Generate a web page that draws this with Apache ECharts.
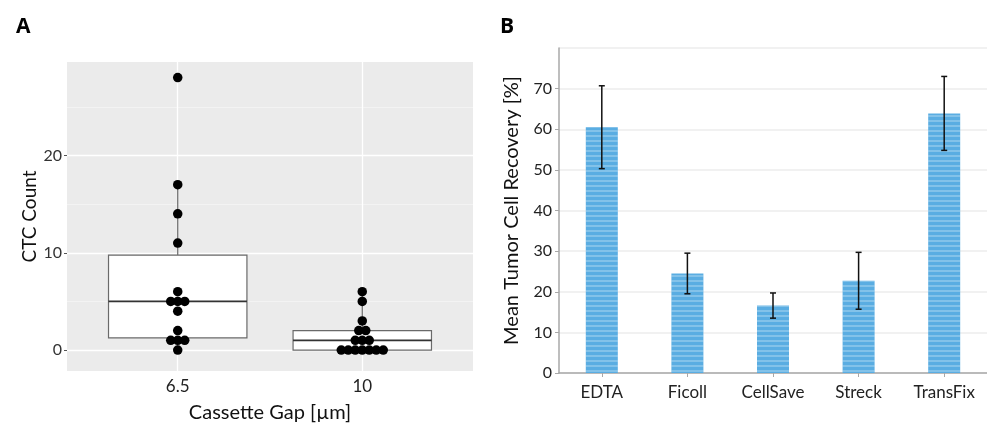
<!DOCTYPE html>
<html>
<head>
<meta charset="utf-8">
<script src="https://cdn.jsdelivr.net/npm/echarts@6/dist/echarts.min.js"></script>
<style>html,body{margin:0;padding:0;background:#fff}#c{width:987px;height:428px}</style>
</head>
<body>
<div id="c"></div>
<script>
// ---- Panel A data ----
const gapCategories = ['6.5', '10'];
const gapPositions = [1, 2];
const ctc65 = [0, 1, 1, 1, 2, 4, 5, 5, 5, 6, 11, 14, 17, 28];
const ctc10 = [0, 0, 0, 0, 0, 0, 0, 1, 1, 1, 2, 2, 3, 5, 6];
// [lower whisker, Q1, median, Q3, upper whisker]
const boxStats65 = [0, 1.25, 5, 9.75, 17];
const boxStats10 = [0, 0, 1, 2, 6];
const ctcTicks = [0, 10, 20];
const ctcMinorTicks = [5, 15, 25];

// ---- Panel B data ----
const media = ['EDTA', 'Ficoll', 'CellSave', 'Streck', 'TransFix'];
const recoveryMean = [60.5, 24.5, 16.6, 22.7, 63.9];
const recoveryErr = [10.2, 5.0, 3.1, 7.0, 9.1];

const FONT = 'Lato, "Open Sans", sans-serif';

// dotplot layout: pixel offset of stacked equal values
function dotData(values, xpos) {
  const counts = {}, seen = {};
  values.forEach(v => counts[v] = (counts[v] || 0) + 1);
  return values.map(v => {
    const i = seen[v] = (seen[v] === undefined ? 0 : seen[v] + 1);
    const n = counts[v];
    return { value: [xpos, v], symbolOffset: [(i - (n - 1) / 2) * 7, 0] };
  });
}

const chart = echarts.init(document.getElementById('c'));
const option = {
  animation: false,
  textStyle: { fontFamily: FONT },
  title: [
    { text: 'A', left: 11, top: 12, textStyle: { fontSize: 21, fontWeight: 'bold', color: '#000', fontFamily: 'Open Sans, sans-serif' } },
    { text: 'B', left: 495, top: 12, textStyle: { fontSize: 21, fontWeight: 'bold', color: '#000', fontFamily: 'Open Sans, sans-serif' } }
  ],
  grid: [
    { left: 67, top: 62, width: 406, height: 312, show: true, backgroundColor: '#ebebeb', borderWidth: 0 },
    { left: 559, top: 48, width: 435, height: 325 }
  ],
  xAxis: [
    {
      gridIndex: 0, type: 'value', min: 0.4, max: 2.6,
      name: 'Cassette Gap [µm]', nameLocation: 'middle', nameGap: 32,
      nameTextStyle: { fontSize: 20, color: '#111', fontFamily: FONT },
      axisLine: { show: false },
      axisTick: { show: true, length: 3, customValues: gapPositions, lineStyle: { color: '#555' } },
      axisLabel: { customValues: gapPositions, margin: 7, fontSize: 17, color: '#222', fontFamily: FONT,
        formatter: v => gapCategories[gapPositions.indexOf(v)] },
      splitLine: { show: false }
    },
    {
      gridIndex: 1, type: 'category', data: media,
      axisLine: { lineStyle: { color: '#a8a8a8', width: 1.5 } },
      axisTick: { show: true, alignWithLabel: true, length: 4, lineStyle: { color: '#a8a8a8' } },
      axisLabel: { margin: 11, fontSize: 17, color: '#222', fontFamily: FONT, interval: 0 },
      splitLine: { show: false }
    }
  ],
  yAxis: [
    {
      gridIndex: 0, type: 'value', min: -2.15, max: 29.6,
      name: 'CTC Count', nameLocation: 'middle', nameGap: 28,
      nameTextStyle: { fontSize: 19, color: '#111', fontFamily: FONT },
      axisLine: { show: false },
      axisTick: { show: true, length: 3, customValues: ctcTicks, lineStyle: { color: '#555' } },
      axisLabel: { customValues: ctcTicks, margin: 5, fontSize: 16, color: '#333', fontFamily: FONT },
      splitLine: { show: false }
    },
    {
      gridIndex: 1, type: 'value', min: 0, max: 80, interval: 10,
      name: 'Mean Tumor Cell Recovery [%]', nameLocation: 'middle', nameGap: 37,
      nameTextStyle: { fontSize: 20, color: '#111', fontFamily: FONT },
      axisLine: { show: true, lineStyle: { color: '#a8a8a8', width: 1.5 } },
      axisTick: { show: true, length: 4, lineStyle: { color: '#a8a8a8' } },
      axisLabel: { margin: 7, fontSize: 16, color: '#222', fontFamily: FONT, showMaxLabel: false },
      splitLine: { show: true, lineStyle: { color: '#ececec', width: 1.5 } }
    }
  ],
  series: [
    {
      type: 'custom', xAxisIndex: 0, yAxisIndex: 0, z: 2,
      data: [[gapPositions[0]].concat(boxStats65), [gapPositions[1]].concat(boxStats10)],
      renderItem: function (params, api) {
        const x = api.value(0);
        const lo = api.value(1), q1 = api.value(2), med = api.value(3), q3 = api.value(4), hi = api.value(5);
        const pLo = api.coord([x, lo]), pHi = api.coord([x, hi]);
        const tl = api.coord([x - 0.375, q3]), br = api.coord([x + 0.375, q1]);
        const pm1 = api.coord([x - 0.375, med]), pm2 = api.coord([x + 0.375, med]);
        const pq1 = api.coord([x, q1]), pq3 = api.coord([x, q3]);
        const st = { stroke: '#6a6a6a', lineWidth: 1.2 };
        return {
          type: 'group', children: [
            { type: 'line', shape: { x1: pq3[0], y1: pq3[1], x2: pHi[0], y2: pHi[1] }, style: st },
            { type: 'line', shape: { x1: pq1[0], y1: pq1[1], x2: pLo[0], y2: pLo[1] }, style: st },
            { type: 'rect', shape: { x: tl[0], y: tl[1], width: br[0] - tl[0], height: br[1] - tl[1] },
              style: { fill: '#fff', stroke: '#6a6a6a', lineWidth: 1.2 } },
            { type: 'line', shape: { x1: pm1[0], y1: pm1[1], x2: pm2[0], y2: pm2[1] }, style: { stroke: '#333', lineWidth: 1.8 } }
          ]
        };
      },
      markLine: {
        silent: true, symbol: 'none', label: { show: false }, z: 1,
        data: ctcTicks.map(v => ({ yAxis: v, lineStyle: { color: '#fff', width: 1.3, type: 'solid' } }))
          .concat(ctcMinorTicks.map(v => ({ yAxis: v, lineStyle: { color: '#f6f6f6', width: 0.7, type: 'solid' } })))
          .concat(gapPositions.map(v => ({ xAxis: v, lineStyle: { color: '#fff', width: 1.3, type: 'solid' } })))
      }
    },
    {
      type: 'scatter', xAxisIndex: 0, yAxisIndex: 0, z: 5,
      symbol: 'circle', symbolSize: 9.5,
      itemStyle: { color: '#000', opacity: 1 },
      data: dotData(ctc65, gapPositions[0]).concat(dotData(ctc10, gapPositions[1]))
    },
    {
      type: 'bar', xAxisIndex: 1, yAxisIndex: 1, barWidth: 32,
      data: recoveryMean,
      itemStyle: {
        color: '#5aade2',
        decal: { symbol: 'rect', color: 'rgba(255,255,255,0.25)', dashArrayX: [1, 0], dashArrayY: [2, 3], rotation: 0, symbolSize: 1 }
      }
    },
    {
      type: 'custom', xAxisIndex: 1, yAxisIndex: 1, z: 6,
      data: recoveryMean.map((m, i) => [i, m - recoveryErr[i], m + recoveryErr[i]]),
      renderItem: function (params, api) {
        const i = api.value(0);
        const lo = api.coord([i, api.value(1)]), hi = api.coord([i, api.value(2)]);
        const st = { stroke: '#111', lineWidth: 1.5 };
        const w = 3;
        return {
          type: 'group', children: [
            { type: 'line', shape: { x1: lo[0], y1: lo[1], x2: hi[0], y2: hi[1] }, style: st },
            { type: 'line', shape: { x1: lo[0] - w, y1: lo[1], x2: lo[0] + w, y2: lo[1] }, style: st },
            { type: 'line', shape: { x1: hi[0] - w, y1: hi[1], x2: hi[0] + w, y2: hi[1] }, style: st }
          ]
        };
      }
    }
  ]
};
chart.setOption(option);
</script>
</body>
</html>
